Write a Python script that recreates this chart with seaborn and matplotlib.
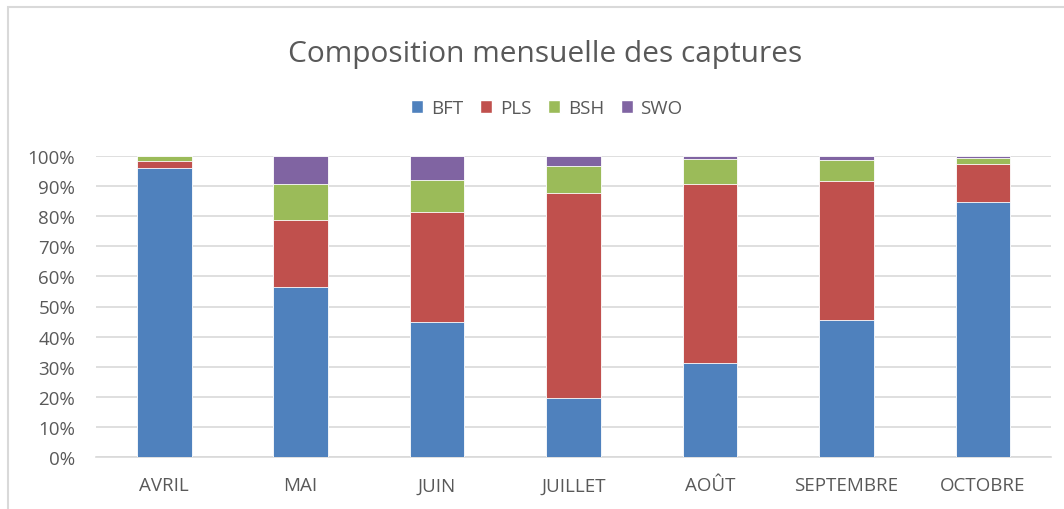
import numpy as np
import pandas as pd
import matplotlib
matplotlib.use("Agg")
import matplotlib.pyplot as plt
import seaborn as sns
from matplotlib.patches import Rectangle, Patch
from matplotlib.ticker import PercentFormatter

# data (share of monthly catch, %)
mois = ["AVRIL", "MAI", "JUIN", "JUILLET", "AOÛT", "SEPTEMBRE", "OCTOBRE"]
bft = [95.9, 56.5, 44.9, 19.6, 31.2, 45.5, 84.6]
pls = [2.5, 22.3, 36.6, 68.2, 59.6, 46.1, 12.8]
bsh = [1.6, 11.9, 10.5, 8.9, 8.3, 7.0, 1.9]
swo = [0.0, 9.3, 8.0, 3.3, 0.9, 1.4, 0.7]

especes = ["BFT", "PLS", "BSH", "SWO"]
couleurs = ["#4F81BD", "#C0504D", "#9BBB59", "#8064A2"]

df = pd.DataFrame({"mois": mois, "BFT": bft, "PLS": pls, "BSH": bsh, "SWO": swo})
# normalise to 100% stacked
tot = df[especes].sum(axis=1)
for e in especes:
    df[e] = df[e] / tot
cum = df[especes].cumsum(axis=1)
cum["mois"] = df["mois"]

sns.set_style("white")
plt.rcParams["font.family"] = ["Open Sans", "DejaVu Sans"]
txt = "#595959"

fig = plt.figure(figsize=(10.64, 5.10), dpi=100)
ax = fig.add_axes([96 / 1064, 52 / 510, (1051 - 96) / 1064, (458 - 157) / 510])

# draw cumulative bars from top down so each segment shows
for e, c in reversed(list(zip(especes, couleurs))):
    sns.barplot(data=cum, x="mois", y=e, color=c, width=0.4, ax=ax,
                edgecolor="white", linewidth=0.6, saturation=1, zorder=3)

ax.set_ylim(0, 1)
ax.set_xlim(-0.5, len(mois) - 0.5)
ax.set_yticks(np.arange(0, 1.01, 0.1))
ax.yaxis.set_major_formatter(PercentFormatter(1.0, decimals=0))
ax.grid(axis="y", color="#D9D9D9", linewidth=1.2, zorder=0)
ax.set_axisbelow(True)
for s in ["top", "right", "left"]:
    ax.spines[s].set_visible(False)
ax.spines["bottom"].set_color("#D9D9D9")
ax.spines["bottom"].set_linewidth(1.2)
ax.tick_params(axis="both", length=0, colors=txt, labelsize=13.5)
ax.tick_params(axis="y", pad=15)
ax.tick_params(axis="x", pad=14)
ax.set_xlabel("")
ax.set_ylabel("")

fig.suptitle("Composition mensuelle des captures", x=0.512, y=0.922,
             fontsize=21.5, color=txt)

handles = [Patch(facecolor=c, label=e) for e, c in zip(especes, couleurs)]
fig.legend(handles=handles, loc="center", bbox_to_anchor=(0.514, 1 - 109 / 510),
           ncol=4, frameon=False, fontsize=13.5, labelcolor=txt,
           handlelength=0.65, handleheight=0.65, handletextpad=0.4, columnspacing=0.9)

# outer chart border
fig.patches.append(Rectangle((8 / 1064, -0.1), 1.2, 1 - 8 / 510 + 0.1,
                             transform=fig.transFigure, fill=False,
                             edgecolor="#D9D9D9", linewidth=1.5))

fig.savefig("out.png", dpi=100)
